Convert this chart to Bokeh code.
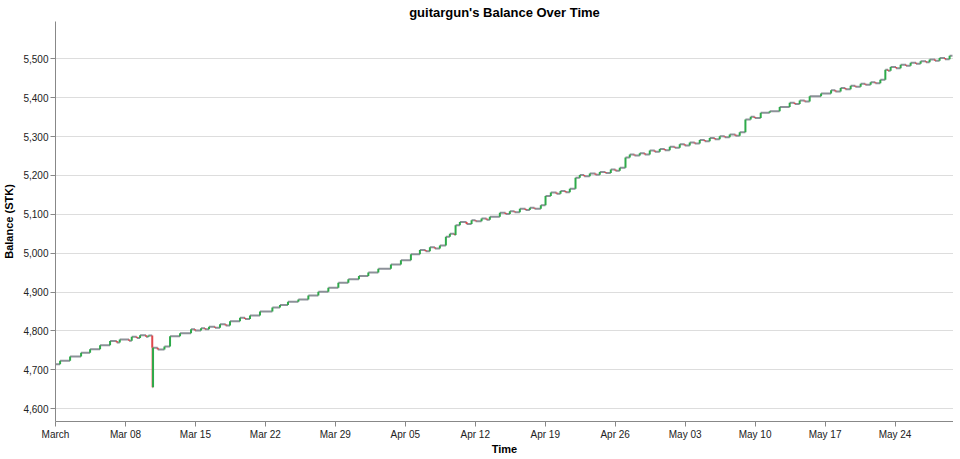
import pandas as pd
from bokeh.plotting import figure
from bokeh.models import ColumnDataSource, Range1d, FixedTicker, NumeralTickFormatter
from bokeh.embed import file_html
from bokeh.resources import INLINE

# ---- data (days since 2020-03-01 00:00, balance in STK) ----
start_date = "2020-03-01"
event_day = [
    0.0, 0.46, 1.46, 2.56, 3.46, 4.46, 5.46, 6.13, 6.43, 7.36, 7.63, 8.13, 8.46, 9.06, 9.3,
    9.68, 9.72, 9.76, 10.23, 10.9, 11.46, 12.46, 13.56, 13.96, 14.56, 14.96, 15.36, 15.96,
    16.46, 17.03, 17.46, 18.46, 18.96, 19.46, 20.46, 21.7, 22.46, 23.26, 24.3, 25.3, 26.3,
    27.3, 28.3, 29.3, 30.36, 31.3, 32.3, 33.56, 34.56, 35.56, 36.46, 37.03, 37.46, 37.96,
    38.46, 39.06, 39.46, 39.93, 40.03, 40.46, 41.13, 41.63, 42.03, 42.63, 43.13, 43.46,
    44.46, 45.03, 45.46, 45.93, 46.46, 47.03, 47.46, 47.93, 48.56, 49.03, 49.56, 50.13,
    50.53, 51.03, 51.46, 52.03, 52.46, 52.9, 53.46, 54.03, 54.46, 55.03, 55.56, 56.03,
    56.46, 57.03, 57.46, 57.93, 58.46, 58.96, 59.46, 59.96, 60.46, 60.96, 61.46, 61.96,
    62.46, 62.96, 63.46, 63.96, 64.46, 64.96, 65.46, 65.96, 66.46, 66.96, 67.46, 68.03,
    68.46, 69.03, 69.56, 69.96, 70.56, 71.46, 72.46, 73.46, 73.96, 74.46, 74.96, 75.46,
    76.6, 77.6, 78.03, 78.56, 79.03, 79.56, 80.03, 80.56, 81.03, 81.56, 82.03, 82.53,
    83.03, 83.3, 83.56, 84.1, 84.56, 85.1, 85.56, 86.1, 86.56, 87.1, 87.46, 88.0, 88.46,
    89.0, 89.46, 89.75,
]
balance = [
    4714, 4723, 4734, 4744, 4753, 4763, 4774, 4770, 4778, 4775, 4785, 4782, 4789, 4785, 4788,
    4757, 4655, 4757, 4752, 4760, 4786, 4794, 4804, 4801, 4807, 4804, 4811, 4808,
    4817, 4814, 4825, 4834, 4831, 4840, 4850, 4860, 4867, 4875, 4881, 4891, 4901,
    4911, 4924, 4933, 4941, 4950, 4960, 4971, 4982, 4997, 5008, 5005, 5015, 5012,
    5020, 5042, 5050, 5047, 5072, 5080, 5075, 5085, 5082, 5089, 5086, 5094,
    5104, 5101, 5108, 5105, 5114, 5111, 5117, 5114, 5123, 5147, 5156, 5153,
    5160, 5157, 5166, 5194, 5201, 5198, 5205, 5202, 5209, 5206, 5215, 5212,
    5220, 5246, 5254, 5251, 5257, 5254, 5264, 5261, 5268, 5265, 5274, 5271,
    5280, 5277, 5285, 5282, 5291, 5288, 5296, 5293, 5301, 5298, 5305, 5302,
    5311, 5344, 5351, 5348, 5361, 5365, 5376, 5387, 5384, 5393, 5390, 5404,
    5411, 5419, 5416, 5425, 5422, 5431, 5428, 5436, 5433, 5440, 5437, 5446,
    5472, 5469, 5479, 5476, 5485, 5482, 5490, 5487, 5494, 5491, 5498, 5495, 5502,
    5499, 5508, 5508,
]
y_ticks = [4600, 4700, 4800, 4900, 5000, 5100, 5200, 5300, 5400, 5500]
x_tick_dates = ["2020-03-01", "2020-03-08", "2020-03-15", "2020-03-22", "2020-03-29",
                "2020-04-05", "2020-04-12", "2020-04-19", "2020-04-26", "2020-05-03",
                "2020-05-10", "2020-05-17", "2020-05-24"]
x_tick_labels = ["March", "Mar 08", "Mar 15", "Mar 22", "Mar 29", "Apr 05", "Apr 12",
                 "Apr 19", "Apr 26", "May 03", "May 10", "May 17", "May 24"]
x_span_days = 89.85
y_domain = (4567, 5596)

# ---- build step segments ----
base = pd.Timestamp(start_date)
times = [base + pd.Timedelta(days=d) for d in event_day]

hx0, hx1, hy = [], [], []
for i in range(len(times) - 1):
    hx0.append(times[i]); hx1.append(times[i + 1]); hy.append(balance[i])

up = dict(x=[], y0=[], y1=[])
down = dict(x=[], y0=[], y1=[])
for i in range(len(times) - 1):
    a, b = balance[i], balance[i + 1]
    if b > a:
        up["x"].append(times[i + 1]); up["y0"].append(a); up["y1"].append(b)
    elif b < a:
        down["x"].append(times[i + 1]); down["y0"].append(a); down["y1"].append(b)

FONT = "Liberation Sans"

p = figure(
    x_axis_type="datetime",
    frame_width=898, frame_height=400,
    x_range=Range1d(base, base + pd.Timedelta(days=x_span_days)),
    y_range=Range1d(*y_domain),
    output_backend="svg", toolbar_location=None,
    title="guitargun's Balance Over Time",
    min_border_left=0, min_border_right=0, min_border_top=0, min_border_bottom=0,
)
p.outline_line_color = None
p.background_fill_color = "white"

p.segment(x0="x0", y0="y", x1="x1", y1="y",
          source=ColumnDataSource(dict(x0=hx0, x1=hx1, y=hy)),
          line_color="#8d9199", line_width=2)
p.segment(x0="x", y0="y0", x1="x", y1="y1", source=ColumnDataSource(down),
          line_color="#e0474c", line_width=2)
p.segment(x0="x", y0="y0", x1="x", y1="y1", source=ColumnDataSource(up),
          line_color="#2eaa4a", line_width=2)

# title
p.title.text_font = FONT
p.title.text_font_size = "13px"
p.title.text_font_style = "bold"
p.title.align = "center"
p.title.text_color = "#000"
p.title.standoff = 4
p.title.offset = 0

# axes
tick_ms = [pd.Timestamp(d).value // 10**6 for d in x_tick_dates]
p.xaxis.ticker = FixedTicker(ticks=tick_ms)
p.xaxis.major_label_overrides = {t: l for t, l in zip(tick_ms, x_tick_labels)}
p.yaxis.ticker = FixedTicker(ticks=y_ticks)
p.yaxis.formatter = NumeralTickFormatter(format="0,0")
p.xaxis.axis_label = "Time"
p.yaxis.axis_label = "Balance (STK)"

for ax in (p.xaxis, p.yaxis):
    ax.axis_line_color = "#888"
    ax.major_tick_line_color = "#888"
    ax.major_tick_out = 5
    ax.major_tick_in = 0
    ax.minor_tick_line_color = None
    ax.major_label_text_font = FONT
    ax.major_label_text_font_size = "10px"
    ax.major_label_text_color = "#222"
    ax.major_label_standoff = 2
    ax.axis_label_text_font = FONT
    ax.axis_label_text_font_size = "11px"
    ax.axis_label_text_font_style = "bold"
    ax.axis_label_text_color = "#000"
p.xaxis.axis_label_standoff = 0
p.yaxis.axis_label_standoff = 5

p.xgrid.grid_line_color = None
p.ygrid.grid_line_color = "#dddddd"
p.ygrid.grid_line_width = 1

open("out.html", "w").write(file_html(p, INLINE))
